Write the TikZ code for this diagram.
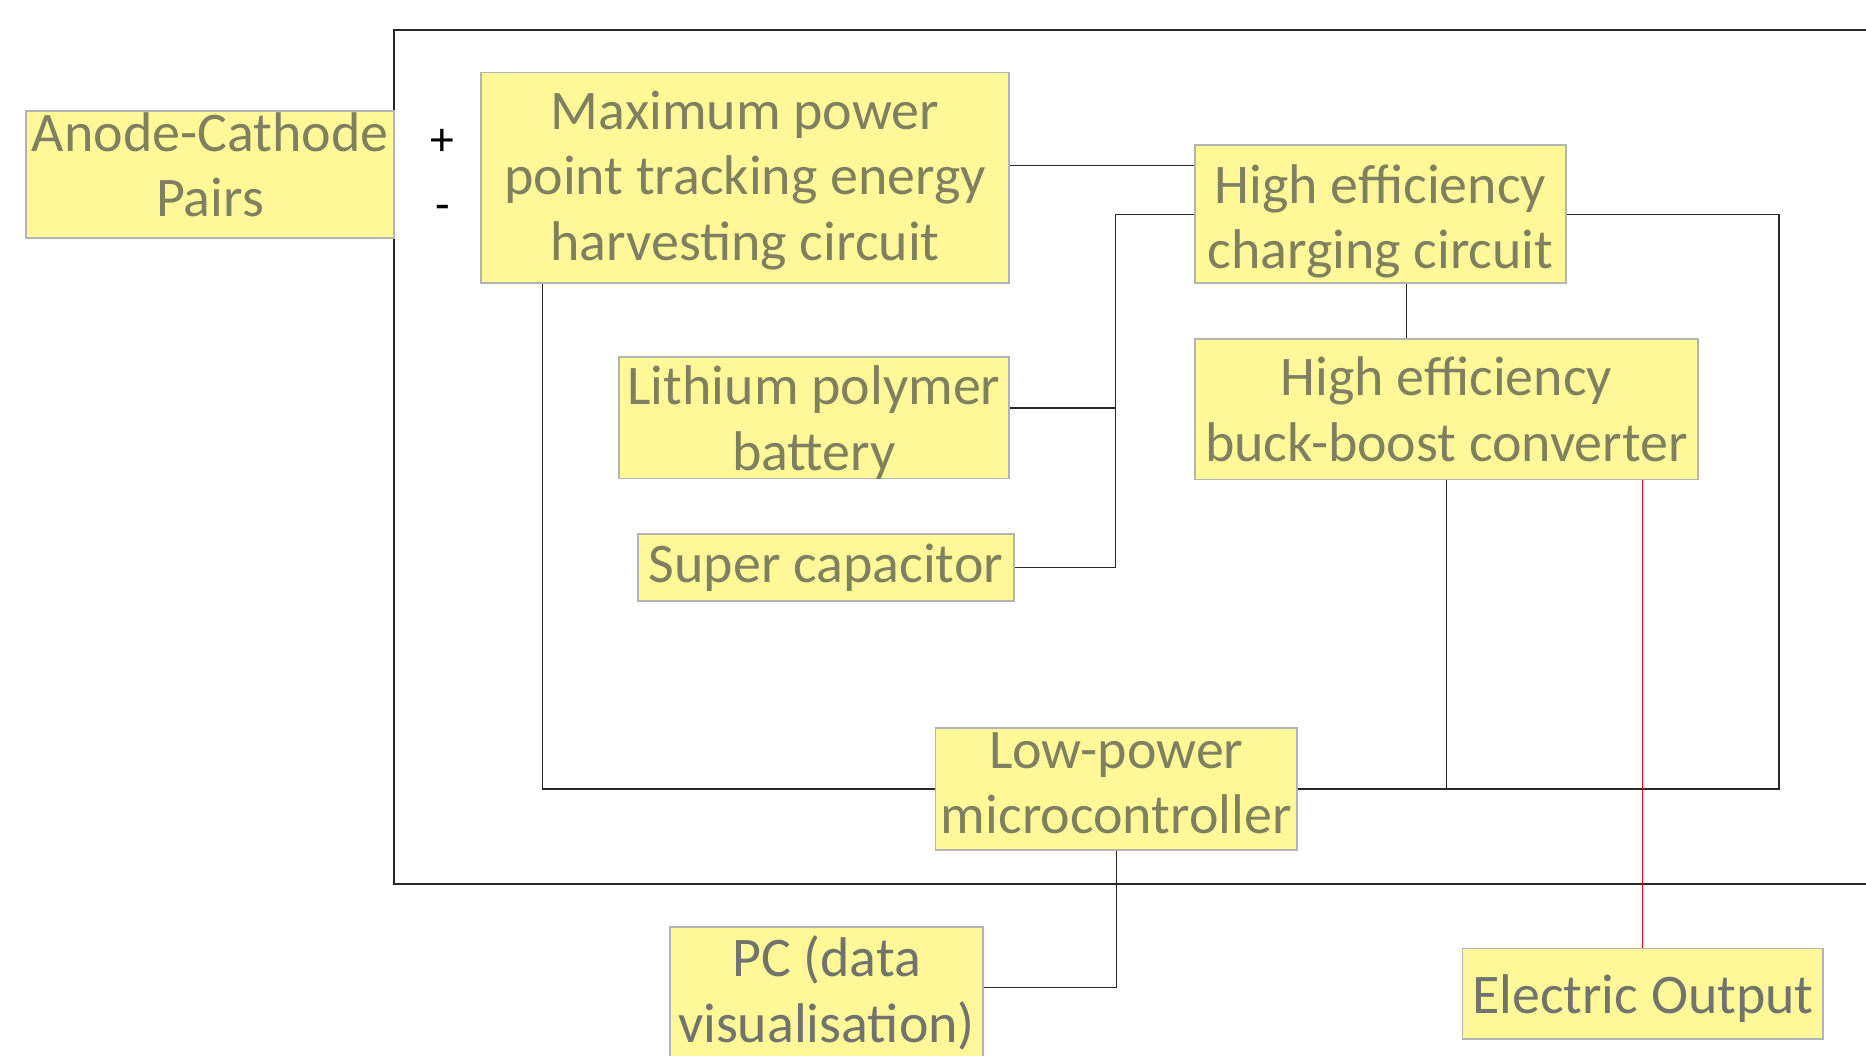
\documentclass[tikz,border=0pt]{standalone}
\usepackage{fontspec}
\setmainfont{Carlito}
\definecolor{boxfill}{RGB}{255,248,153}
\definecolor{boxline}{RGB}{180,180,180}
\definecolor{txt}{RGB}{128,128,96}
\definecolor{txtgray}{RGB}{115,115,110}
\definecolor{frameline}{RGB}{40,40,40}
\tikzset{
  box/.style={draw=boxline, line width=1.5pt, fill=boxfill, inner sep=0pt},
  boxtext/.style={inner sep=0pt, align=center, text=txt, font=\fontsize{47}{55}\selectfont},
  graytext/.style={boxtext, text=txtgray},
  wire/.style={draw=frameline, line width=1.2pt},
  redwire/.style={draw=red, line width=1pt},
  sign/.style={inner sep=0pt, text=black, font=\fontsize{40}{48}\selectfont}
}
\begin{document}
\begin{tikzpicture}[x=1pt,y=-1pt]
\useasboundingbox (0,0) rectangle (1568,887);
\clip (0,0) rectangle (1568,887);
\fill[white] (0,0) rectangle (1568,887);
% outer frame
\coordinate (ftr) at (1600,25);
\coordinate (ftl) at (331,25);
\coordinate (fbl) at (331,743);
\coordinate (fbr) at (1600,743);
\draw[draw=frameline, line width=1.5pt] (ftr) -- (ftl) -- (fbl) -- (fbr);
% boxes
\node[box, minimum width=309pt, minimum height=107pt,
  label={[boxtext, yshift=8pt]center:{Anode-Cathode\\Pairs}}] (anode) at (176.5,146.5) {};
\node[box, minimum width=444pt, minimum height=177pt,
  label={[boxtext, yshift=-2pt]center:{Maximum power\\point tracking energy\\harvesting circuit}}] (mppt) at (626,149.5) {};
\node[box, minimum width=312pt, minimum height=116pt,
  label={[boxtext, yshift=-6pt]center:{High efficiency\\charging circuit}}] (chg) at (1160,180) {};
\node[box, minimum width=328pt, minimum height=102pt,
  label={[boxtext, yshift=-4pt]center:{Lithium polymer\\battery}}] (bat) at (684,351) {};
\node[box, minimum width=316pt, minimum height=56pt,
  label={[boxtext]center:{Super capacitor}}] (cap) at (694,477) {};
\node[box, minimum width=423pt, minimum height=118pt,
  label={[boxtext]center:{High efficiency\\buck-boost converter}}] (buck) at (1215.5,344) {};
\node[box, minimum width=304pt, minimum height=102pt,
  label={[boxtext, yshift=5pt]center:{Low-power\\microcontroller}}] (mcu) at (938,663) {};
\node[box, minimum width=263pt, minimum height=109pt,
  label={[graytext, yshift=-1pt]center:{PC (data\\visualisation)}}] (pc) at (694.5,833.5) {};
\node[box, minimum width=303pt, minimum height=76pt,
  label={[graytext, yshift=-4pt]center:{Electric Output}}] (out) at (1380.5,835) {};
% signs
\node[sign] (plus) at (372,120) {+};
\node[sign] (minus) at (372,179) {-};
% connection points on box sides
\coordinate (mpptR) at ([yshift=10.5pt]mppt.east);
\coordinate (batR) at ([yshift=8pt]bat.east);
\coordinate (chgB) at ([xshift=22pt]chg.south);
\coordinate (mpptB) at ([xshift=-170pt]mppt.south);
\coordinate (pcR) at ([yshift=3.5pt]pc.east);
% connectors
\draw[wire] (mpptR) -- (mpptR -| chg.west);
\draw[wire] (chg.west) -- ++(-66,0) coordinate (bus) -- (bus |- cap.east) -- (cap.east);
\draw[wire] (batR) -- (bus |- batR);
\draw[wire] (chgB) -- (chgB |- buck.north);
\draw[wire] (chg.east) -- ++(178,0) coordinate (rc) -- (rc |- mcu.east) -- (mcu.east);
\draw[wire] (buck.south) -- (buck.south |- mcu.east);
\draw[wire] (mpptB) |- (mcu.west);
\draw[wire] (mcu.south) |- (pcR);
\draw[redwire] (out.north) -- (out.north |- buck.south);
\end{tikzpicture}
\end{document}
